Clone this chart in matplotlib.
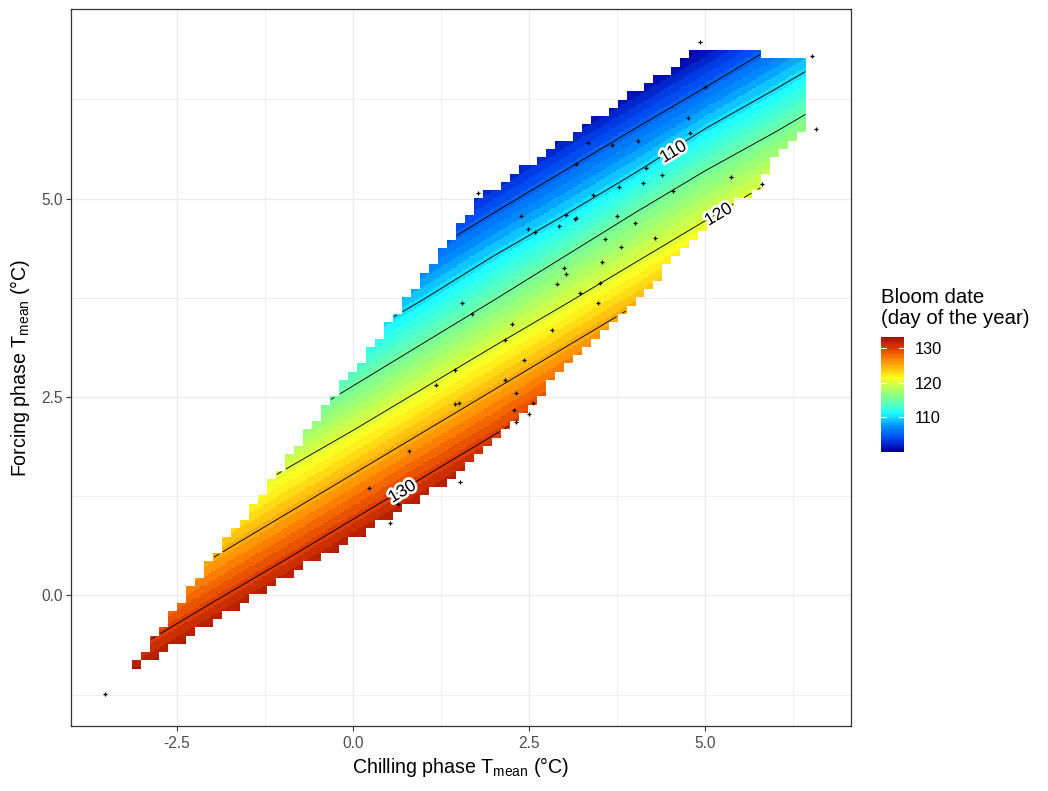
import numpy as np
import matplotlib
matplotlib.use("Agg")
import matplotlib.pyplot as plt
import matplotlib.patheffects as pe
from matplotlib.colors import LinearSegmentedColormap, Normalize

plt.rcParams['font.family'] = ['Liberation Sans', 'DejaVu Sans']
plt.rcParams['mathtext.fontset'] = 'custom'
plt.rcParams['mathtext.rm'] = 'Liberation Sans'
plt.rcParams['mathtext.default'] = 'regular'

# ---- data ----
chill_knots = [-3, -2, -1, 0, 1, 2, 3, 4, 5, 6, 6.5]
bloom_levels = [100, 105, 110, 115, 120, 125, 130, 135]
force_at_100 = [2.72, 3.25, 3.78, 4.31, 4.84, 5.38, 5.91, 6.44, 6.96, 7.49, 7.77]
force_at_105 = [2.16, 2.69, 3.22, 3.75, 4.28, 4.82, 5.35, 5.88, 6.40, 6.93, 7.21]
force_at_110 = [1.62, 2.15, 2.68, 3.21, 3.73, 4.28, 4.79, 5.32, 5.88, 6.38, 6.64]
force_at_115 = [1.03, 1.56, 2.10, 2.64, 3.18, 3.72, 4.27, 4.82, 5.35, 5.84, 6.10]
force_at_120 = [0.52, 1.04, 1.57, 2.08, 2.61, 3.14, 3.66, 4.19, 4.72, 5.25, 5.51]
force_at_125 = [-0.06, 0.47, 1.00, 1.53, 2.06, 2.59, 3.12, 3.65, 4.15, 4.65, 4.92]
force_at_130 = [-0.62, -0.09, 0.43, 0.96, 1.49, 2.02, 2.56, 3.09, 3.62, 4.15, 4.41]
force_at_135 = [-1.18, -0.65, -0.13, 0.40, 0.93, 1.46, 2.00, 2.53, 3.06, 3.59, 3.85]

# first cell and one-past-last cell of the forcing grid in every chilling column
row_low = [0, 1, 1, 2, 3, 3, 4, 5, 5, 6,
           7, 7, 8, 9, 9, 10, 11, 11, 12, 13,
           13, 14, 14, 15, 16, 16, 17, 18, 18, 19,
           20, 20, 21, 22, 22, 23, 24, 25, 26, 27,
           28, 29, 30, 31, 32, 33, 35, 36, 37, 38,
           39, 40, 41, 42, 43, 44, 45, 46, 47, 49,
           50, 51, 52, 53, 54, 55, 56, 57, 57, 58,
           60, 62, 63, 64, 65]
row_high = [1, 2, 4, 5, 7, 8, 10, 11, 13, 14,
            16, 17, 18, 20, 21, 23, 24, 26, 27, 29,
            30, 32, 33, 35, 36, 37, 39, 40, 42, 43,
            45, 46, 48, 49, 51, 52, 54, 55, 57, 58,
            58, 59, 60, 61, 61, 62, 63, 64, 64, 65,
            66, 67, 67, 68, 69, 70, 70, 71, 72, 72,
            73, 74, 75, 75, 75, 75, 75, 75, 75, 75,
            74, 74, 74, 74, 74]

obs_chill = [-3.52, 0.22, 2.48, 2.58, 2.93, 2.99, 3.02, 2.89, 1.55, 1.69, 2.25, 2.83, 2.16, 1.45, 2.43,
             1.18, 2.15, 2.31, 1.45, 1.50, 2.55, 2.29, 2.50, 2.31, 0.79, 1.52, 0.64, 0.53, 4.92, 6.51,
             6.57, 5.00, 4.76, 4.78, 4.05, 3.33, 3.68, 3.17, 4.16, 4.38, 4.11, 3.77, 3.40, 1.78, 4.54,
             5.36, 5.80, 2.38, 3.02, 3.15, 3.17, 3.75, 4.00, 3.57, 4.29, 3.81, 3.53, 3.50, 3.22, 3.48]
obs_force = [-1.24, 1.36, 4.62, 4.58, 4.65, 4.13, 4.05, 3.92, 3.68, 3.55, 3.42, 3.35, 3.22, 2.84, 2.96,
             2.65, 2.71, 2.55, 2.41, 2.43, 2.42, 2.33, 2.29, 2.19, 1.82, 1.43, 1.15, 0.91, 6.97, 6.79,
             5.88, 6.41, 6.01, 5.82, 5.73, 5.70, 5.68, 5.44, 5.39, 5.30, 5.19, 5.15, 5.04, 5.07, 5.10,
             5.27, 5.18, 4.78, 4.79, 4.74, 4.75, 4.78, 4.69, 4.49, 4.50, 4.39, 4.20, 3.93, 3.81, 3.68]

contour_labels = ["110", "120", "130"]
label_chill = [4.55, 5.19, 0.70]
label_force = [5.585, 4.795, 1.305]

x_ticks = [-2.5, 0.0, 2.5, 5.0]
y_ticks = [0.0, 2.5, 5.0]
x_minor = [-1.25, 1.25, 3.75, 6.25]
y_minor = [-1.25, 1.25, 3.75, 6.25]
legend_ticks = [110, 120, 130]

# ---- surface: coarse outline, finer sampling inside ----
n_cells = 75
sub = 5
n_fine = n_cells * sub
chill_edges = -3.139 + 0.12766 / sub * np.arange(n_fine + 1)
force_edges = -0.922 + 0.1039 / sub * np.arange(n_fine + 1)
chill_mid = (chill_edges[:-1] + chill_edges[1:]) / 2
force_mid = (force_edges[:-1] + force_edges[1:]) / 2

heights = np.array([force_at_135, force_at_130, force_at_125, force_at_120,
                    force_at_115, force_at_110, force_at_105, force_at_100])
levels_desc = np.array(bloom_levels[::-1], float)
bloom = np.full((n_fine, n_fine), np.nan)
for k, cx in enumerate(chill_mid):
    col_h = np.array([np.interp(cx, chill_knots, h) for h in heights])
    c = k // sub
    lo, hi = row_low[c] * sub, row_high[c] * sub
    bloom[lo:hi, k] = np.interp(force_mid[lo:hi], col_h, levels_desc)
bloom_masked = np.ma.masked_invalid(bloom)

vmin, vmax = 100.0, 133.3
stops = [(100.0, "#0000A0"), (103.6, "#0048F0"), (107.2, "#0090FF"), (111.0, "#20FFFF"),
         (116.4, "#8FFF80"), (121.4, "#FFFF20"), (126.6, "#FF8800"), (130.0, "#E03C00"), (133.3, "#A01000")]
cmap = LinearSegmentedColormap.from_list(
    "bloom", [((v - vmin) / (vmax - vmin), c) for v, c in stops], N=256)
norm = Normalize(vmin, vmax)

# ---- figure ----
W, H = 1048, 791
fig = plt.figure(figsize=(W / 100, H / 100), dpi=100)
L, R, T, B = 71, 851, 9, 726
ax = fig.add_axes([L / W, 1 - B / H, (R - L) / W, (B - T) / H])
ax.set_xlim(-4.006, 7.07)
ax.set_ylim(-1.644, 7.387)

ax.set_axisbelow(True)
ax.set_xticks(x_ticks)
ax.set_yticks(y_ticks)
ax.set_xticks(x_minor, minor=True)
ax.set_yticks(y_minor, minor=True)
ax.grid(True, which='major', color='#EBEBEB', lw=1.0)
ax.grid(True, which='minor', color='#EBEBEB', lw=0.55)
ax.tick_params(which='minor', length=0)
ax.tick_params(which='major', length=3.3, width=0.8, color='#333333',
               labelcolor='#4D4D4D', labelsize=11.2)
ax.tick_params(axis='x', which='major', pad=4.0)
ax.tick_params(axis='y', which='major', pad=2.8)
ax.set_xticklabels([f"{v:.1f}" for v in x_ticks])
ax.set_yticklabels([f"{v:.1f}" for v in y_ticks])
for s in ax.spines.values():
    s.set_color('#333333')
    s.set_linewidth(0.9)

ax.pcolormesh(chill_edges, force_edges, np.ma.round(bloom_masked), cmap=cmap, norm=norm,
              shading='flat', antialiased=False, linewidth=0, rasterized=True, zorder=1)
ax.contour(chill_mid, force_mid, bloom_masked, levels=[105, 110, 115, 120, 125, 130],
           colors='black', linewidths=0.65, zorder=2)
ax.plot(obs_chill, obs_force, ls='none', marker='+', ms=2.8, mew=0.9, color='black', zorder=3)

for t, cx, fy in zip(contour_labels, label_chill, label_force):
    ax.text(cx, fy, t, fontsize=12.5, rotation=31, ha='center', va='center', color='black', zorder=4,
            path_effects=[pe.withStroke(linewidth=3.8, foreground='white')])

ax.set_xlabel(r"Chilling phase T$_{mean}$ (°C)", fontsize=14.1, labelpad=2.6)
ax.set_ylabel(r"Forcing phase T$_{mean}$ (°C)", fontsize=14.1, labelpad=6.3)

# ---- legend ----
bx0, bx1, by0, by1 = 881, 904, 337, 452
cax = fig.add_axes([bx0 / W, 1 - by1 / H, (bx1 - bx0) / W, (by1 - by0) / H])
grad = np.linspace(vmin, vmax, 60)[:, None]
cax.imshow(grad, origin='lower', aspect='auto', cmap=cmap, norm=norm,
           extent=[0, 1, vmin, vmax], interpolation='nearest')
cax.set_xlim(0, 1)
cax.set_ylim(vmin, vmax)
cax.set_xticks([])
cax.yaxis.tick_right()
cax.set_yticks(legend_ticks)
cax.set_yticklabels([str(v) for v in legend_ticks])
cax.tick_params(axis='y', length=0, labelsize=11.8, labelcolor='black', pad=7.5)
for s in cax.spines.values():
    s.set_visible(False)
for v in legend_ticks:
    cax.plot([0, 0.2], [v, v], color='white', lw=0.8)
    cax.plot([0.8, 1], [v, v], color='white', lw=0.8)
fig.text(881 / W, 1 - 297.5 / H, "Bloom date", fontsize=14.7, ha='left', va='center')
fig.text(881 / W, 1 - 318.5 / H, "(day of the year)", fontsize=14.7, ha='left', va='center')

fig.savefig("out.png", dpi=100)
